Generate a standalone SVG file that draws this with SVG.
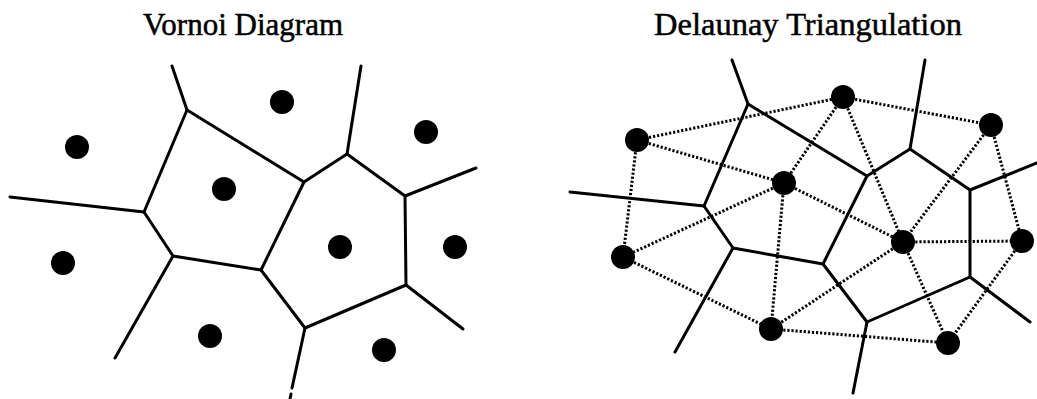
<svg xmlns="http://www.w3.org/2000/svg" width="1037" height="399" viewBox="0 0 1037 399">
<style>
.title{font-family:"Liberation Serif","Times New Roman",serif;fill:#000;stroke:#000;stroke-width:0.5;text-anchor:middle}
.vor{fill:none;stroke:#000;stroke-width:3;stroke-linecap:round;stroke-linejoin:round}
.del{fill:none;stroke:#000;stroke-width:3;stroke-dasharray:2.2 1.9}
.site{fill:#000}
</style>
<rect width="1037" height="399" fill="#fff"/>
<text class="title" x="243" y="35" font-size="31">Vornoi Diagram</text>
<text class="title" x="808" y="35" font-size="32.5">Delaunay Triangulation</text>

<g id="voronoi-left-edges" class="vor">
<path d="M187,110 L304,182 L347,154 L405,196 L406,285 L305,328 L261,270 L304,182"/>
<path d="M261,270 L173,256 L144,212 L187,110"/>
<path d="M187,110 L172,66"/>
<path d="M347,154 L361,66"/>
<path d="M405,196 L476,168"/>
<path d="M144,212 L10,197"/>
<path d="M173,256 L115,358"/>
<path d="M406,285 L463,329"/>
<path d="M305,328 L292,388"/>
<path d="M291,394 L290,399"/>
</g>

<g id="left-sites">
<g id="L1"><circle class="site" cx="282" cy="102" r="12"/></g>
<g id="L2"><circle class="site" cx="77" cy="147" r="12"/></g>
<g id="L3"><circle class="site" cx="426" cy="132" r="12"/></g>
<g id="L4"><circle class="site" cx="224" cy="189" r="12"/></g>
<g id="L5"><circle class="site" cx="340" cy="247" r="12"/></g>
<g id="L6"><circle class="site" cx="455" cy="247" r="12"/></g>
<g id="L7"><circle class="site" cx="63" cy="263" r="12"/></g>
<g id="L8"><circle class="site" cx="210" cy="336" r="12"/></g>
<g id="L9"><circle class="site" cx="384" cy="350" r="12"/></g>
</g>

<g id="voronoi-right-edges" class="vor">
<path d="M748,104 L867,176 L910,149 L970,190 L970,277 L867,322 L823,264 L867,176"/>
<path d="M823,264 L733,248 L704,206 L748,104"/>
<path d="M748,104 L732,60"/>
<path d="M910,149 L925,60"/>
<path d="M970,190 L1037,163"/>
<path d="M704,206 L570,192"/>
<path d="M733,248 L675,352"/>
<path d="M970,277 L1030,322"/>
<path d="M867,322 L853,393"/>
</g>

<g id="delaunay-edges" class="del">
<path d="M637,140 L843,97"/>
<path d="M637,140 L784,183"/>
<path d="M637,140 L623,257"/>
<path d="M843,97 L991,125"/>
<path d="M843,97 L784,183"/>
<path d="M843,97 L903,242"/>
<path d="M991,125 L903,242"/>
<path d="M991,125 L1022,241"/>
<path d="M784,183 L903,242"/>
<path d="M784,183 L623,257"/>
<path d="M784,183 L771,329"/>
<path d="M903,242 L1022,241"/>
<path d="M903,242 L771,329"/>
<path d="M903,242 L948,343"/>
<path d="M1022,241 L948,343"/>
<path d="M623,257 L771,329"/>
<path d="M771,329 L948,343"/>
</g>

<g id="right-sites">
<g id="R1"><circle class="site" cx="637" cy="140" r="12"/></g>
<g id="R2"><circle class="site" cx="843" cy="97" r="12"/></g>
<g id="R3"><circle class="site" cx="991" cy="125" r="12"/></g>
<g id="R4"><circle class="site" cx="784" cy="183" r="12"/></g>
<g id="R5"><circle class="site" cx="903" cy="242" r="12"/></g>
<g id="R6"><circle class="site" cx="1022" cy="241" r="12"/></g>
<g id="R7"><circle class="site" cx="623" cy="257" r="12"/></g>
<g id="R8"><circle class="site" cx="771" cy="329" r="12"/></g>
<g id="R9"><circle class="site" cx="948" cy="343" r="12"/></g>
</g>
</svg>
